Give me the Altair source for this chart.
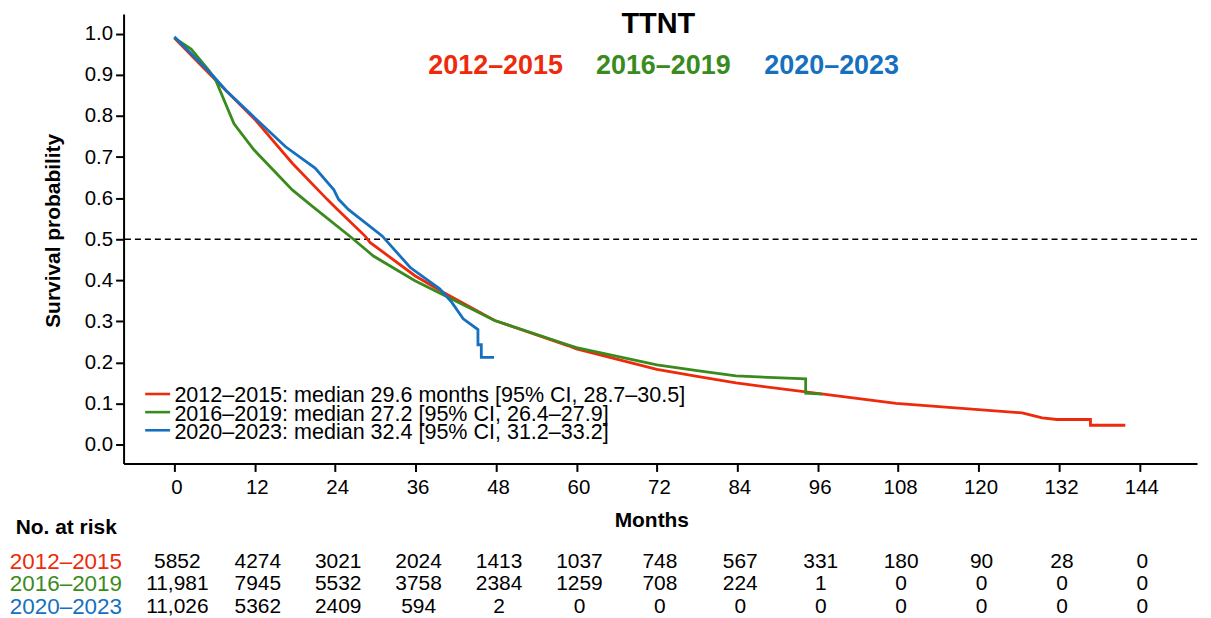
import altair as alt
import pandas as pd

# ---------------- data ----------------
series = ["2012–2015", "2016–2019", "2020–2023"]
colors = ["#EE2A0C", "#3A8B1D", "#1570BF"]
legend_labels = [
    "2012–2015: median 29.6 months [95% CI, 28.7–30.5]",
    "2016–2019: median 27.2 [95% CI, 26.4–27.9]",
    "2020–2023: median 32.4 [95% CI, 31.2–33.2]",
]

red_months = [0, 5.7, 7.7, 12.1, 17.6, 22.8, 24.3, 28.5, 29.2, 35.9, 40.1, 47.8, 58.7, 60, 72, 78,
              83.8, 94.2, 107.7, 126.5, 129.5, 131.7, 136.7, 136.7, 141.9]
red_surv = [0.990, 0.895, 0.862, 0.790, 0.685, 0.597, 0.573, 0.507, 0.492, 0.411, 0.371, 0.302, 0.241,
            0.233, 0.183, 0.166, 0.150, 0.128, 0.100, 0.077, 0.065, 0.061, 0.061, 0.047, 0.047]

green_months = [0, 2.5, 5.2, 6.2, 8.9, 11.9, 17.6, 20.6, 26.5, 29.7, 35.9, 40.4, 47.8, 58.7, 60, 72,
                78, 83.8, 94.2, 94.2, 96.7]
green_surv = [0.990, 0.963, 0.910, 0.886, 0.781, 0.717, 0.620, 0.580, 0.503, 0.459, 0.399, 0.362,
              0.302, 0.243, 0.236, 0.194, 0.180, 0.167, 0.160, 0.125, 0.123]

blue_months = [0, 5.7, 7.7, 12.1, 16.6, 21.0, 23.8, 24.5, 26.0, 31.0, 35.2, 39.6, 41.4, 43.1, 45.3,
               45.3, 45.8, 45.8, 47.7]
blue_surv = [0.993, 0.899, 0.862, 0.794, 0.725, 0.673, 0.620, 0.597, 0.572, 0.508, 0.431, 0.379,
             0.346, 0.306, 0.280, 0.243, 0.243, 0.212, 0.212]

risk_months = [0, 12, 24, 36, 48, 60, 72, 84, 96, 108, 120, 132, 144]
risk_2012 = ["5852", "4274", "3021", "2024", "1413", "1037", "748", "567", "331", "180", "90", "28", "0"]
risk_2016 = ["11,981", "7945", "5532", "3758", "2384", "1259", "708", "224", "1", "0", "0", "0", "0"]
risk_2020 = ["11,026", "5362", "2409", "594", "2", "0", "0", "0", "0", "0", "0", "0", "0"]

x_ticks = [0, 12, 24, 36, 48, 60, 72, 84, 96, 108, 120, 132, 144]
y_ticks = [0.0, 0.1, 0.2, 0.3, 0.4, 0.5, 0.6, 0.7, 0.8, 0.9, 1.0]

# ---------------- tables ----------------
rows = []
for lab, ms, ss in zip(legend_labels, [red_months, green_months, blue_months],
                       [red_surv, green_surv, blue_surv]):
    for i, (m, s) in enumerate(zip(ms, ss)):
        rows.append({"label": lab, "month": m, "surv": s, "order": i})
curves = pd.DataFrame(rows)

risk_rows = []
for s, counts in zip(series, [risk_2012, risk_2016, risk_2020]):
    for m, c in zip(risk_months, counts):
        risk_rows.append({"series": s, "month": m, "count": c})
risk = pd.DataFrame(risk_rows)

legend_df = pd.DataFrame({"label": legend_labels})

FONT = "Liberation Sans"
W = 1077.4
H_TOP = 451
H_BOT = 68
x_dom = [-7.58, 152.6]
y_dom = [-0.046, 1.048]

x_scale = alt.Scale(domain=x_dom, zero=False, nice=False)
y_scale = alt.Scale(domain=y_dom, zero=False, nice=False)
color_scale = alt.Scale(domain=legend_labels, range=colors)

x_axis = alt.Axis(values=x_ticks, title="Months", titleFontSize=21, titleFontWeight="bold",
                  titleX=529.7, titleY=63, titleBaseline="alphabetic", titleAlign="center",
                  labelFontSize=20.5, labelPadding=6, labelOffset=2, tickSize=8, tickWidth=2,
                  domainWidth=2, domainColor="black", tickColor="black", labelColor="black",
                  titleColor="black", grid=False, labelFlush=False, labelOverlap=False)
y_axis = alt.Axis(values=y_ticks, format=".1f", title="Survival probability", titleFontSize=21,
                  titleFontWeight="bold", titlePadding=21, titleY=217, labelFontSize=20.5,
                  labelPadding=3, tickSize=8, tickWidth=2, domainWidth=2, domainColor="black",
                  tickColor="black", labelColor="black", titleColor="black", grid=False,
                  labelFlush=False, labelOverlap=False)

lines = alt.Chart(curves).mark_line(strokeWidth=2.8).encode(
    x=alt.X("month:Q", scale=x_scale, axis=x_axis),
    y=alt.Y("surv:Q", scale=y_scale, axis=y_axis),
    color=alt.Color("label:N", scale=color_scale, legend=None),
    order="order:Q",
)

median_rule = alt.Chart(pd.DataFrame({"y": [0.5]})).mark_rule(
    strokeDash=[6, 4], strokeWidth=1.6, color="black").encode(
    y=alt.Y("y:Q", scale=y_scale, axis=None))

# in-plot legend (rows laid out by a point scale)
leg_scale = alt.Scale(type="point", domain=legend_labels, range=[381.3, 417.7], padding=0)
leg_lines = alt.Chart(legend_df).mark_rule(strokeWidth=2.6).encode(
    x=alt.value(21.7), x2=alt.value(46.7),
    y=alt.Y("label:N", scale=leg_scale, axis=None),
    color=alt.Color("label:N", scale=color_scale, legend=None),
)
leg_text = alt.Chart(legend_df).mark_text(
    fontSize=21.6, align="left", baseline="middle", dy=2.5, color="black").encode(
    x=alt.value(51),
    y=alt.Y("label:N", scale=leg_scale, axis=None),
    text="label:N",
)

title_txt = alt.Chart(pd.DataFrame({"t": ["TTNT"]})).mark_text(
    fontSize=29, fontWeight="bold", align="center", baseline="alphabetic", color="black"
).encode(text="t:N", x=alt.value(536.7), y=alt.value(19))

header_x = [373.4, 541.7, 710.7]
headers = []
for s, c, hx in zip(series, colors, header_x):
    headers.append(
        alt.Chart(pd.DataFrame({"t": [s]})).mark_text(
            fontSize=27, fontWeight="bold", align="center", baseline="alphabetic", color=c
        ).encode(text="t:N", x=alt.value(hx), y=alt.value(60))
    )

top = alt.layer(median_rule, lines, leg_lines, leg_text, title_txt, *headers).resolve_scale(
    y="independent"
).properties(width=W, height=H_TOP)

# ---------------- risk table ----------------
row_scale = alt.Scale(domain=series, type="point", padding=0.5)
numbers = alt.Chart(risk).mark_text(fontSize=21, dx=3, baseline="middle", color="black").encode(
    x=alt.X("month:Q", scale=alt.Scale(domain=x_dom, zero=False, nice=False), axis=None),
    y=alt.Y("series:N", scale=row_scale, axis=None),
    text="count:N",
)
row_labels = alt.Chart(pd.DataFrame({"series": series})).mark_text(
    fontSize=22.5, align="right", baseline="middle").encode(
    x=alt.value(-1.6),
    y=alt.Y("series:N", scale=row_scale, axis=None),
    text="series:N",
    color=alt.Color("series:N", scale=alt.Scale(domain=series, range=colors), legend=None),
)
risk_head = alt.Chart(pd.DataFrame({"t": ["No. at risk"]})).mark_text(
    fontSize=21, fontWeight="bold", align="left", baseline="alphabetic", color="black"
).encode(text="t:N", x=alt.value(-108.3), y=alt.value(-16.4))

bottom = alt.layer(numbers, row_labels, risk_head).properties(width=W, height=H_BOT)

chart = alt.vconcat(top, bottom, spacing=87.4, bounds="flush").resolve_scale(
    color="independent", x="independent", y="independent"
).properties(
    padding={"left": 1, "top": 1, "right": 5, "bottom": 0}
).configure(font=FONT).configure_view(strokeWidth=0)

chart.save("out.html", embed_options={"renderer": "svg", "actions": False})
